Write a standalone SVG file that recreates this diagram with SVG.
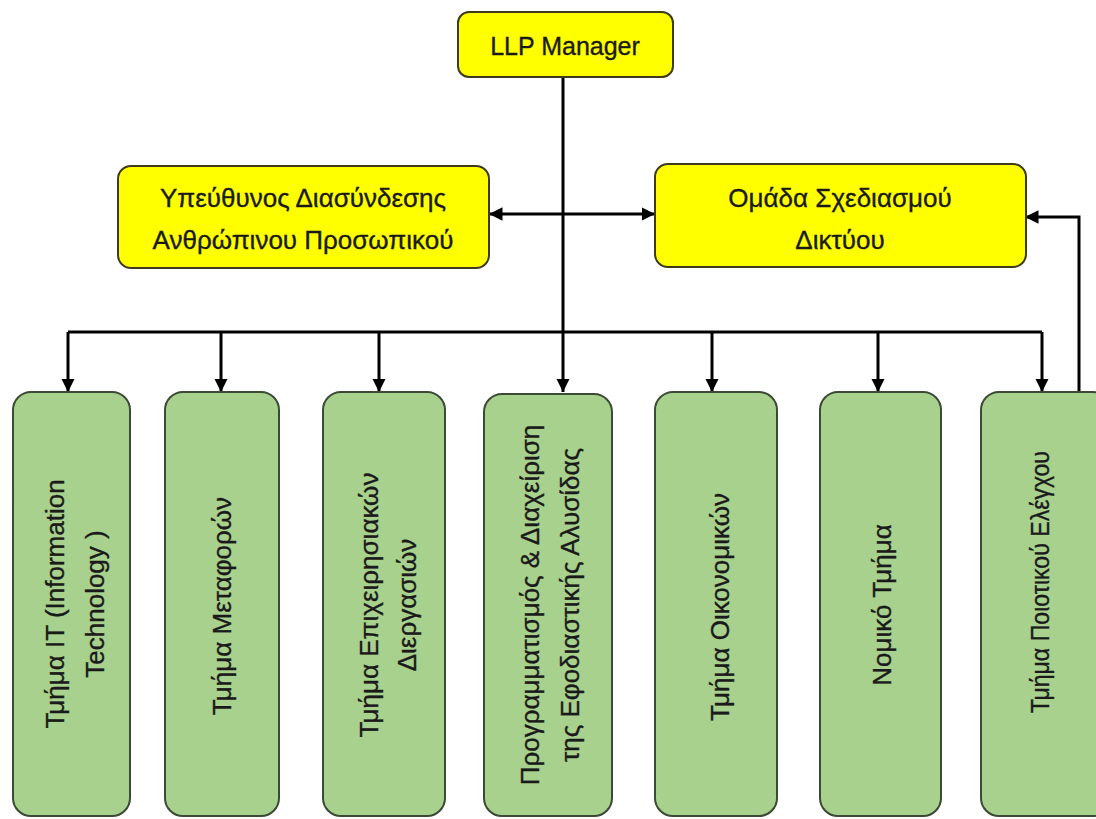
<svg xmlns="http://www.w3.org/2000/svg" width="1096" height="819" viewBox="0 0 1096 819">
  <defs>
    <marker id="arrow" viewBox="0 0 10 10" refX="10" refY="5" markerWidth="4.5" markerHeight="4.5" orient="auto-start-reverse" markerUnits="strokeWidth">
      <path d="M0,0 L10,5 L0,10 z" fill="#000"/>
    </marker>
    <style>
      .top { fill: #ffff00; stroke: #3d3b1c; stroke-width: 2; }
      .dept { fill: #a9d18e; stroke: #3b4a35; stroke-width: 2; }
      .lbl { font-family: "Liberation Sans", Arial, sans-serif; font-size: 26px; fill: #1a1a1a; stroke: #1a1a1a; stroke-width: 0.35; text-anchor: middle; dominant-baseline: central; }
      .line { fill: none; stroke: #000; stroke-width: 3; }
      .arr { marker-end: url(#arrow); }
    </style>
  </defs>
  <rect width="1096" height="819" fill="#ffffff"/>

  <!-- connectors -->
  <g id="connectors">
    <!-- trunk from the manager down to the planning department -->
    <path class="line arr" d="M563,77 V392"/>
    <!-- department bus -->
    <path class="line" d="M68,332 H1042"/>
    <path class="line arr" d="M68,332 V392"/>
    <path class="line arr" d="M221,332 V392"/>
    <path class="line arr" d="M379,332 V392"/>
    <path class="line arr" d="M712,332 V392"/>
    <path class="line arr" d="M878,332 V392"/>
    <path class="line arr" d="M1042,332 V392"/>
    <!-- two-way link between the staff units -->
    <path class="line" d="M489,214 H655" marker-start="url(#arrow)" marker-end="url(#arrow)"/>
    <!-- quality control reports to network design -->
    <path class="line arr" d="M1079,393 V217 H1025"/>
  </g>

  <g id="llp-manager">
    <rect class="top" x="458" y="12" width="215" height="65" rx="11"/>
    <text class="lbl" x="565" y="46" style="font-size:25px">LLP Manager</text>
  </g>

  <g id="hr-liaison">
    <rect class="top" x="118" y="166" width="371" height="102" rx="13"/>
    <text class="lbl" x="303" y="198">Υπεύθυνος Διασύνδεσης</text>
    <text class="lbl" x="303" y="240">Ανθρώπινου Προσωπικού</text>
  </g>

  <g id="network-design">
    <rect class="top" x="655" y="164" width="371" height="103" rx="13"/>
    <text class="lbl" x="840" y="198">Ομάδα Σχεδιασμού</text>
    <text class="lbl" x="840" y="240">Δικτύου</text>
  </g>

  <g id="dept-it">
    <rect class="dept" x="13" y="392" width="117" height="424" rx="18"/>
    <g transform="translate(75,604) rotate(-90)">
      <text class="lbl" x="0" y="-20">Τμήμα IT (Information</text>
      <text class="lbl" x="0" y="20">Technology )</text>
    </g>
  </g>

  <g id="dept-transport">
    <rect class="dept" x="165" y="392" width="114" height="424" rx="18"/>
    <text class="lbl" transform="translate(222,606) rotate(-90)">Τμήμα Μεταφορών</text>
  </g>

  <g id="dept-processes">
    <rect class="dept" x="323" y="392" width="122" height="424" rx="18"/>
    <g transform="translate(388,605) rotate(-90)">
      <text class="lbl" x="0" y="-19">Τμήμα Επιχειρησιακών</text>
      <text class="lbl" x="0" y="19">Διεργασιών</text>
    </g>
  </g>

  <g id="dept-supply-chain">
    <rect class="dept" x="484" y="394" width="128" height="422" rx="18"/>
    <g transform="translate(550,605) rotate(-90)">
      <text class="lbl" x="0" y="-20">Προγραμματισμός &amp; Διαχείριση</text>
      <text class="lbl" x="0" y="20">της Εφοδιαστικής Αλυσίδας</text>
    </g>
  </g>

  <g id="dept-finance">
    <rect class="dept" x="655" y="392" width="122" height="424" rx="18"/>
    <text class="lbl" transform="translate(720,607) rotate(-90)">Τμήμα Οικονομικών</text>
  </g>

  <g id="dept-legal">
    <rect class="dept" x="820" y="392" width="121" height="424" rx="18"/>
    <text class="lbl" transform="translate(882,605) rotate(-90)">Νομικό Τμήμα</text>
  </g>

  <g id="dept-quality">
    <rect class="dept" x="981" y="392" width="130" height="424" rx="18"/>
    <text class="lbl" transform="translate(1040,582) rotate(-90)" textLength="262" lengthAdjust="spacingAndGlyphs">Τμήμα Ποιοτικού Ελέγχου</text>
  </g>
</svg>
